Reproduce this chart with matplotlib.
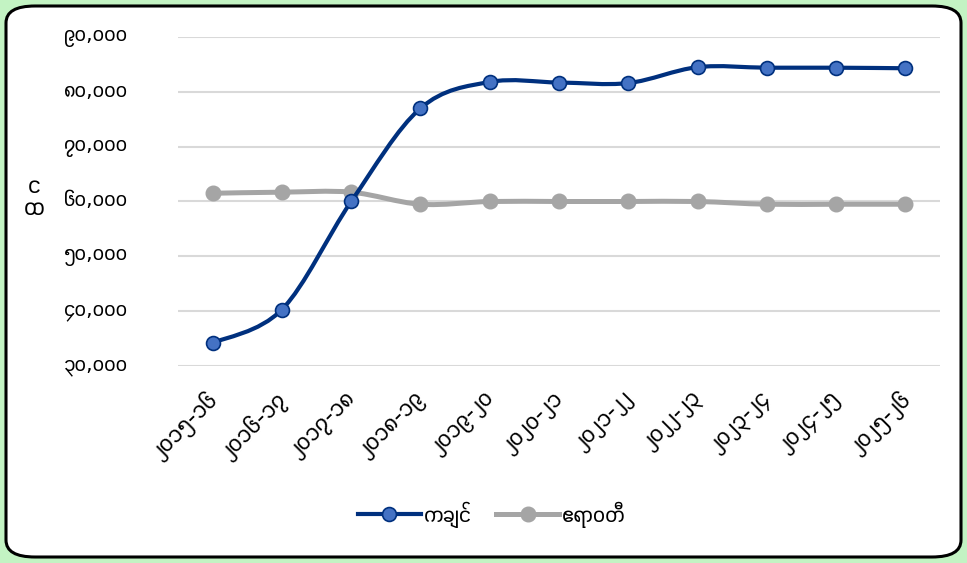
import numpy as np
import matplotlib
matplotlib.use("Agg")
import matplotlib.pyplot as plt
from matplotlib import font_manager
import matplotlib.transforms as mtransforms
from matplotlib.patches import FancyBboxPatch
from matplotlib.path import Path
from matplotlib.patches import PathPatch
from matplotlib.lines import Line2D

# ---------------- data ----------------
categories = ["၂၀၁၅-၁၆", "၂၀၁၆-၁၇", "၂၀၁၇-၁၈", "၂၀၁၈-၁၉", "၂၀၁၉-၂၀", "၂၀၂၀-၂၁",
              "၂၀၂၁-၂၂", "၂၀၂၂-၂၃", "၂၀၂၃-၂၄", "၂၀၂၄-၂၅", "၂၀၂၅-၂၆"]
kachin = [34200, 40300, 60000, 77000, 81800, 81700, 81600, 84500, 84400, 84400, 84300]
ayeyarwady = [61500, 61700, 61700, 59500, 60000, 60000, 60000, 60000, 59500, 59500, 59500]
series_names = ["ကချင်", "ဧရာဝတီ"]
y_ticks = [30000, 40000, 50000, 60000, 70000, 80000, 90000]
y_tick_labels = ["၃၀,၀၀၀", "၄၀,၀၀၀", "၅၀,၀၀၀", "၆၀,၀၀၀", "၇၀,၀၀၀", "၈၀,၀၀၀", "၉၀,၀၀၀"]
y_title = "င\nထ"

# ---------------- font search ----------------
def find_myanmar_fonts():
    out = []
    try:
        from fontTools.ttLib import TTFont
    except Exception:
        return out
    for path in font_manager.findSystemFonts():
        try:
            f = TTFont(path, fontNumber=0, lazy=True)
            cmap = f.getBestCmap()
            if cmap and 0x1000 in cmap and 0x1040 in cmap:
                upem = f["head"].unitsPerEm
                adv = f["hmtx"][cmap[0x1040]][0] / upem
                out.append((adv, path))
        except Exception:
            continue
    out.sort()
    return out

cands = find_myanmar_fonts()
mm = None
if cands:
    path = cands[0][1]
    font_manager.fontManager.addfont(path)
    mm = font_manager.FontProperties(fname=path).get_name()
fams = ([mm] if mm else []) + ["DejaVu Sans"]
plt.rcParams["font.family"] = fams

W, H, DPI = 967, 563, 100
fig = plt.figure(figsize=(W / DPI, H / DPI), dpi=DPI)
fig.patch.set_facecolor("#c3f3c3")

# rounded white card
card = FancyBboxPatch((6 / W, 6 / H), (W - 12) / W, (H - 12) / H,
                      boxstyle="round,pad=0,rounding_size=0.03",
                      transform=fig.transFigure, facecolor="white",
                      edgecolor="black", linewidth=2.2, zorder=-10)
fig.patches.append(card)

ax_l, ax_r, ax_t, ax_b = 178, 940, 37, 366
ax = fig.add_axes([ax_l / W, 1 - ax_b / H, (ax_r - ax_l) / W, (ax_b - ax_t) / H])
ax.set_facecolor("none")
ax.set_zorder(1)

x = np.arange(len(categories))


def excel_smooth_path(xs, ys):
    xs = np.asarray(xs, float)
    ys = np.asarray(ys, float)
    n = len(xs)
    verts = [(xs[0], ys[0])]
    codes = [Path.MOVETO]
    for i in range(n - 1):
        p0 = (xs[i - 1], ys[i - 1]) if i > 0 else (xs[i], ys[i])
        p1 = (xs[i], ys[i])
        p2 = (xs[i + 1], ys[i + 1])
        p3 = (xs[i + 2], ys[i + 2]) if i + 2 < n else p2
        c1 = (p1[0] + (p2[0] - p0[0]) / 6, p1[1] + (p2[1] - p0[1]) / 6)
        c2 = (p2[0] - (p3[0] - p1[0]) / 6, p2[1] - (p3[1] - p1[1]) / 6)
        verts += [c1, c2, p2]
        codes += [Path.CURVE4] * 3
    return Path(verts, codes)


navy = "#00307e"
blue_fill = "#4472c4"
grey = "#a5a5a5"

# grey series first (behind)
ax.add_patch(PathPatch(excel_smooth_path(x, ayeyarwady), facecolor="none",
                       edgecolor=grey, lw=3.6, capstyle="round", zorder=3))
ax.plot(x, ayeyarwady, ls="none", marker="o", ms=10.5, mfc=grey, mec=grey,
        zorder=4)
ax.add_patch(PathPatch(excel_smooth_path(x, kachin), facecolor="none",
                       edgecolor=navy, lw=3.0, capstyle="round", zorder=5))
ax.plot(x, kachin, ls="none", marker="o", ms=10, mfc=blue_fill, mec=navy,
        mew=1.2, zorder=6)

ax.set_xlim(-0.5, len(categories) - 0.5)
ax.set_ylim(30000, 90000)
ax.set_yticks(y_ticks)
ax.set_yticklabels(y_tick_labels, fontsize=15)
ax.set_xticks(x)
ax.set_xticklabels(categories, rotation=45, ha="right", va="top",
                   rotation_mode="anchor", fontsize=17)
ax.tick_params(axis="y", length=0, pad=36)
ax.tick_params(axis="x", length=0, pad=15)
shift = mtransforms.ScaledTranslation(-7 / DPI, 0, fig.dpi_scale_trans)
for lab in ax.get_xticklabels():
    lab.set_transform(lab.get_transform() + shift)
yshift = mtransforms.ScaledTranslation(0, 3 / DPI, fig.dpi_scale_trans)
for lab in ax.get_yticklabels():
    lab.set_transform(lab.get_transform() + yshift)
ax.grid(axis="y", color="#d9d9d9", lw=1.5)
ax.set_axisbelow(True)
for s in ax.spines.values():
    s.set_visible(False)

fig.text(34 / W, 1 - 197 / H, y_title, ha="center", va="center",
         fontsize=17, linespacing=0.85)

handles = [Line2D([0], [0], color=navy, lw=3.0, marker="o", ms=10,
                  mfc=blue_fill, mec=navy, mew=1.2),
           Line2D([0], [0], color=grey, lw=3.6, marker="o", ms=10.5,
                  mfc=grey, mec=grey)]
fig.legend(handles, series_names, loc="center", bbox_to_anchor=(492 / W, 1 - 515 / H),
           ncol=2, frameon=False, fontsize=16, handlelength=2.8,
           columnspacing=1.1, handletextpad=0.15)

fig.savefig("out.png", dpi=DPI, facecolor=fig.get_facecolor())
